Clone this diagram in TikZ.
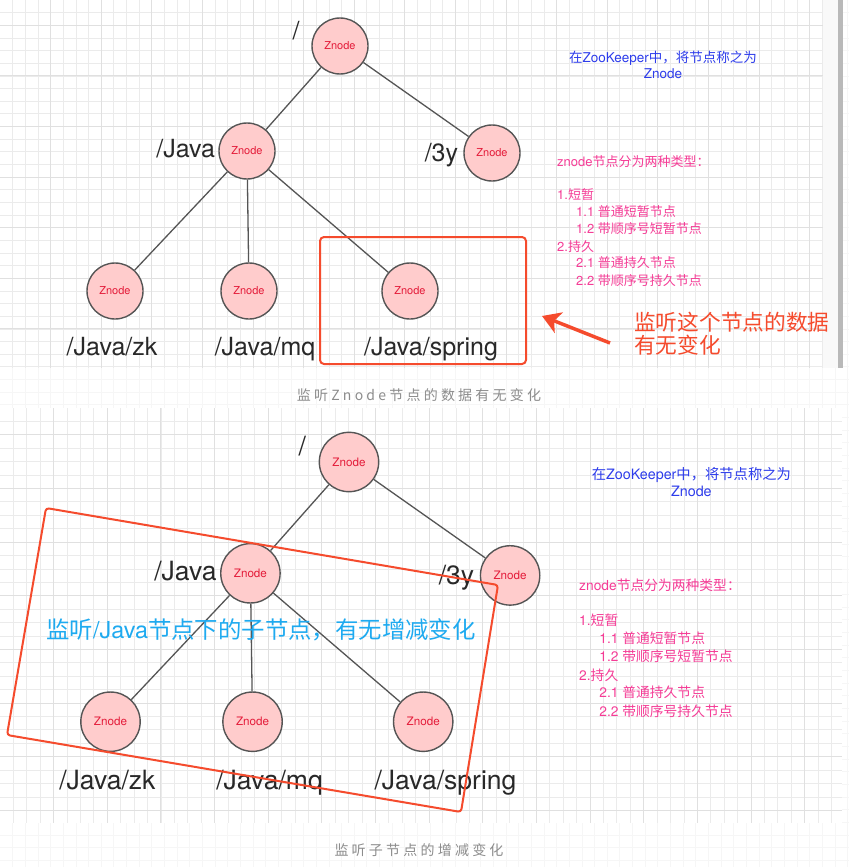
\documentclass[tikz,border=0pt]{standalone}
\usepackage{fontspec}
\setmainfont{Noto Sans CJK SC}
\newfontfamily\lat{TeX Gyre Heros}
\newfontfamily\capfont[LetterSpace=23]{Noto Sans CJK SC}
\usetikzlibrary{arrows.meta}

\definecolor{znfill}{RGB}{255,204,204}
\definecolor{znline}{RGB}{85,85,85}
\definecolor{znred}{RGB}{228,28,58}
\definecolor{lbl}{RGB}{40,40,40}
\definecolor{note}{RGB}{245,75,45}
\definecolor{bluetext}{RGB}{45,60,235}
\definecolor{pinktext}{RGB}{245,60,150}
\definecolor{cyantext}{RGB}{30,170,240}
\definecolor{captext}{RGB}{140,140,140}

\tikzset{
  zcircle/.style={circle,draw=znline,fill=znfill,line width=1.4pt,minimum size=56pt,
    inner sep=0pt,text=znred,font=\lat\fontsize{11}{13}\selectfont},
  treeline/.style={draw=znline,line width=1.3pt},
  pathtxt/.style={text=lbl,inner sep=0pt,font=\lat\fontsize{25}{30}\selectfont},
  bluetxt/.style={text=bluetext,align=center,inner sep=0pt,font=\fontsize{13.5}{16}\selectfont},
  pinktxt/.style={text=pinktext,anchor=west,inner sep=0pt,font=\fontsize{13}{15}\selectfont},
  redbox/.style={draw=note,line width=2pt},
  gridminor/.style={draw=gray!16,line width=0.8pt},
  gridmajor/.style={draw=gray!24,line width=0.9pt},
  captxt/.style={text=captext,inner sep=0pt,font=\capfont\fontsize{14}{16}\selectfont}
}

\begin{document}
\begin{tikzpicture}[x=1pt,y=-1pt,>=Stealth]
  \useasboundingbox (0,0) rectangle (849,867);
  \fill[white] (0,0) rectangle (849,867);
  \foreach \k in {1,...,68}
    \draw[gray!7,line width=0.8pt] ({12.65*\k},0) -- ({12.65*\k},867);
  \foreach \k in {1,...,68}
    \draw[gray!7,line width=0.8pt] (0,{12.65*\k}) -- (849,{12.65*\k});
  \fill[white] (0,0) rectangle (823,368);
  \foreach \k in {1,...,65}
    \draw[gridminor] ({12.65*\k},0) -- ({12.65*\k},368);
  \foreach \k in {1,...,29}
    \draw[gridminor] (0,{12.65*\k}) -- (823,{12.65*\k});
  \foreach \k in {4,8,...,64}
    \draw[gridmajor] ({12.65*\k},0) -- ({12.65*\k},368);
  \foreach \k in {2,6,...,26}
    \draw[gridmajor] (0,{12.65*\k}) -- (823,{12.65*\k});
  \fill[gray!5] (823,0) rectangle (838,368);
  \fill[gray!55] (838,0) rectangle (843,368);
  \fill[white] (0,408) rectangle (842,823);
  \foreach \k in {1,...,62}
    \draw[gridminor] ({13.41*\k},408) -- ({13.41*\k},823);
  \foreach \k in {1,...,30}
    \draw[gridminor] (0,{408+13.41*\k}) -- (842,{408+13.41*\k});
  \foreach \k in {4,8,...,60}
    \draw[gridmajor] ({13.41*\k},408) -- ({13.41*\k},823);
  \foreach \k in {2,6,...,30}
    \draw[gridmajor] (0,{408+13.41*\k}) -- (842,{408+13.41*\k});

  \foreach \pn/\ox/\oy/\sc in {t/340/46/1, b/349/462/1.06}{
    \begin{scope}[shift={(\ox,\oy)},scale=\sc,transform shape]
      \node[zcircle] (\pn-root) at (0,0) {Znode};
      \node[zcircle] (\pn-java) at (-93,105) {Znode};
      \node[zcircle] (\pn-three) at (152,107) {Znode};
      \node[zcircle] (\pn-zk) at (-225,245) {Znode};
      \node[zcircle] (\pn-mq) at (-91,245) {Znode};
      \node[zcircle] (\pn-spring) at (70,245) {Znode};
      \draw[treeline] (\pn-root) -- (\pn-java);
      \draw[treeline] (\pn-root) -- (\pn-three);
      \foreach \leaf in {zk,mq,spring}
        \draw[treeline] (\pn-java) -- (\pn-\leaf);
      \node[pathtxt] (\pn-lroot) at (-44,-15) {/};
      \node[pathtxt,anchor=east] (\pn-ljava) at ([xshift=-3pt,yshift=2pt]\pn-java.west) {/Java};
      \node[pathtxt,anchor=east] (\pn-lthree) at ([xshift=-5pt,yshift=-2pt]\pn-three.west) {/3y};
      \node[pathtxt,anchor=base] (\pn-lzk) at (-228,309) {/Java/zk};
      \node[pathtxt,anchor=base] (\pn-lmq) at (-75,309) {/Java/mq};
      \node[pathtxt,anchor=base] (\pn-lspring) at (91,309) {/Java/spring};
      \node[bluetxt] (\pn-title) at (323,19) {在{\lat ZooKeeper}中，将节点称之为\\{\lat Znode}};
      \foreach \yy/\xx/\tx in {116/217/{{\lat znode}节点分为两种类型：},
          149/217/{{\lat 1.}短暂}, 166/236/{{\lat 1.1 }普通短暂节点},
          183/236/{{\lat 1.2 }带顺序号短暂节点}, 201/217/{{\lat 2.}持久},
          217/236/{{\lat 2.1 }普通持久节点}, 235/236/{{\lat 2.2 }带顺序号持久节点}}
        \node[pinktxt] (\pn-type\yy) at (\xx,\yy) {\tx};
    \end{scope}
  }

  \draw[redbox,rounded corners=4pt] (320,237) rectangle (526,364);
  \coordinate (tail) at (610,343);
  \coordinate (tip) at (542,316);
  \draw[note,line width=3.5pt,-{Stealth[length=18pt,width=22pt,inset=5pt]}] (tail) -- (tip);
  \node[text=note,anchor=west,align=left,inner sep=0pt,font=\fontsize{21.7}{23}\selectfont]
    (watchdata) at (634,334) {监听这个节点的数据\\有无变化};

  \draw[redbox,rounded corners=3pt] (46,508) -- (498,585) -- (461,812) -- (7,735) -- cycle;
  \node[text=cyantext,inner sep=0pt,font=\fontsize{23.4}{27}\selectfont]
    (watchkids) at (261,630) {监听{\lat /Java}节点下的子节点，有无增减变化};

  \node[captxt] (cap1) at (419,395) {监听Znode节点的数据有无变化};
  \node[captxt] (cap2) at (419,850) {监听子节点的增减变化};
\end{tikzpicture}
\end{document}
